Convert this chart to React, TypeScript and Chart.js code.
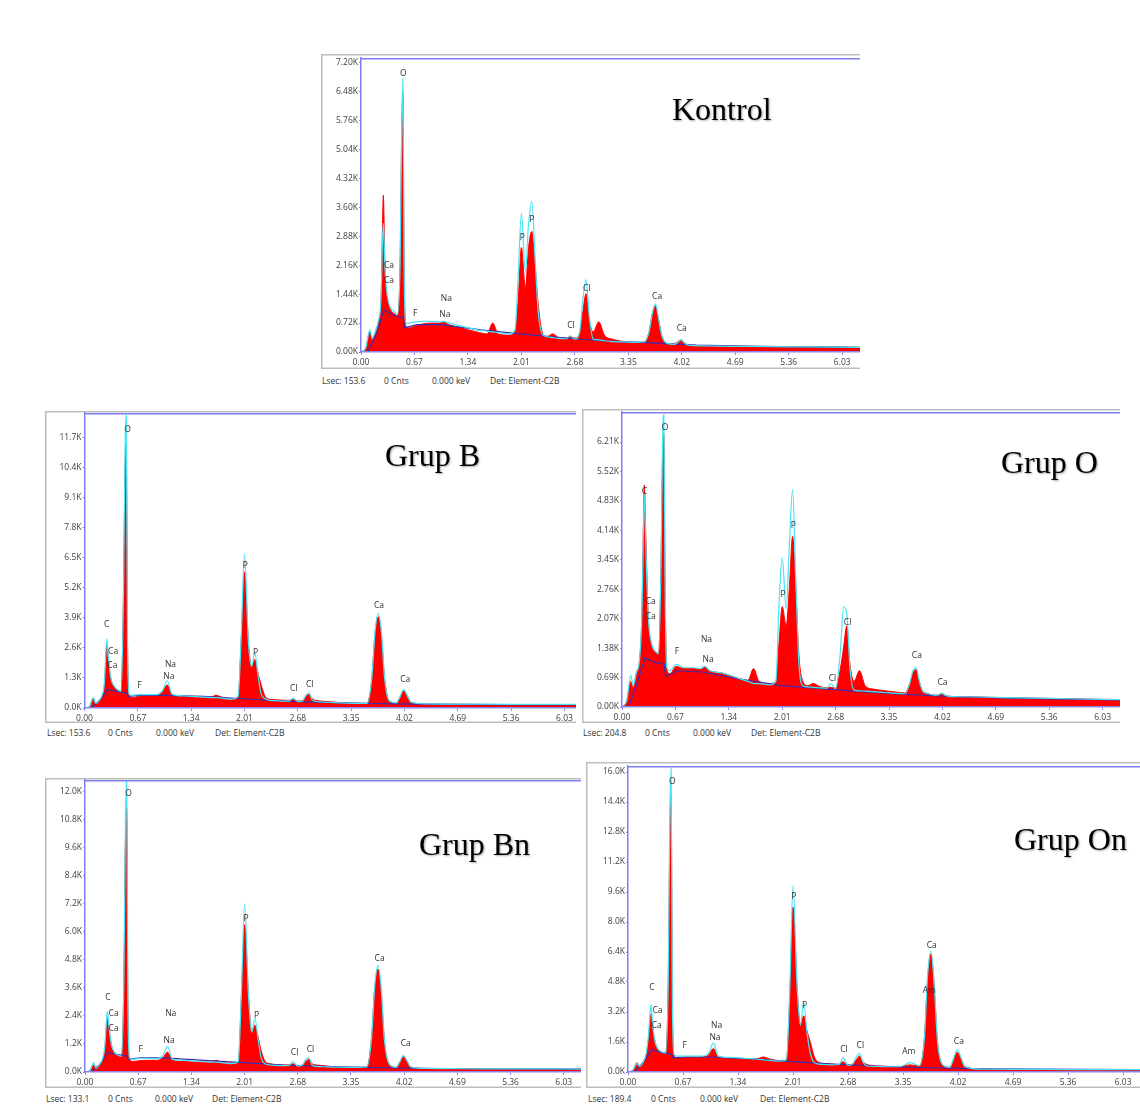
import React, { useEffect, useRef } from "react";
import { Chart, registerables } from "chart.js";

Chart.register(...registerables);

// ---------- shared axes ----------
const energyKeV = [
  0.00, 0.06, 0.11, 0.14, 0.18, 0.22, 0.25, 0.27, 0.28, 0.30,
  0.33, 0.37, 0.42, 0.46, 0.49, 0.51, 0.525, 0.54, 0.56, 0.60,
  0.68, 0.78, 0.90, 0.98, 1.04, 1.10, 1.25, 1.45, 1.58, 1.65,
  1.72, 1.85, 1.93, 1.97, 2.01, 2.06, 2.10, 2.14, 2.18, 2.22,
  2.27, 2.33, 2.40, 2.48, 2.57, 2.62, 2.68, 2.74, 2.78, 2.82,
  2.86, 2.91, 2.98, 3.05, 3.15, 3.30, 3.44, 3.55, 3.61, 3.65,
  3.69, 3.73, 3.77, 3.83, 3.92, 3.96, 4.01, 4.06, 4.10, 4.30,
  4.80, 5.40, 6.00, 6.40,
];
const bgEnergyKeV = [0.08, 0.18, 0.29, 0.40, 0.53, 0.545, 0.70, 1.00, 1.50, 2.00, 2.50, 3.00, 3.50, 4.20, 5.00, 6.40];
const xTickLabels = ["0.00", "0.67", "1.34", "2.01", "2.68", "3.35", "4.02", "4.69", "5.36", "6.03"];

// ---------- Kontrol ----------
const kontrolYLabels = ["0.00K", "0.72K", "1.44K", "2.16K", "2.88K", "3.60K", "4.32K", "5.04K", "5.76K", "6.48K", "7.20K"];
const kontrolCounts = [
  0, 0.1, 0.5, 0.3, 0.5, 0.75, 1.2, 3.2, 3.9, 2.1,
  1.35, 1.05, 0.95, 0.9, 2.2, 5.4, 6.45, 2.2, 0.65, 0.6,
  0.65, 0.7, 0.72, 0.72, 0.74, 0.68, 0.6, 0.5, 0.45, 0.72,
  0.45, 0.42, 0.5, 1.3, 2.6, 1.6, 2.6, 3.0, 2.2, 1.2,
  0.5, 0.38, 0.45, 0.36, 0.35, 0.38, 0.35, 0.45, 1.0, 1.45,
  0.8, 0.5, 0.75, 0.42, 0.32, 0.26, 0.24, 0.25, 0.5, 0.95,
  1.15, 0.8, 0.4, 0.22, 0.2, 0.24, 0.3, 0.22, 0.18, 0.16,
  0.14, 0.13, 0.12, 0.11,
];
const kontrolFit = [
  0, 0.1, 0.55, 0.35, 0.5, 0.8, 1.3, 2.8, 3.2, 2.1,
  1.4, 1.1, 1.0, 0.95, 2.2, 5.6, 6.8, 2.2, 0.72, 0.72,
  0.75, 0.76, 0.76, 0.75, 0.76, 0.72, 0.65, 0.55, 0.52, 0.5,
  0.48, 0.45, 0.55, 1.9, 3.45, 2.0, 3.2, 3.75, 2.4, 1.0,
  0.45, 0.38, 0.36, 0.34, 0.33, 0.4, 0.32, 0.5, 1.3, 1.8,
  0.9, 0.32, 0.3, 0.28, 0.26, 0.25, 0.24, 0.25, 0.5, 0.95,
  1.2, 0.8, 0.4, 0.22, 0.19, 0.22, 0.3, 0.21, 0.17, 0.15,
  0.14, 0.13, 0.12, 0.11,
];
const kontrolBackground = [0, 0.4, 1.05, 0.92, 0.85, 0.6, 0.68, 0.68, 0.55, 0.45, 0.36, 0.28, 0.24, 0.17, 0.14, 0.11];
const kontrolPeaks: [string, number, number][] = [
  ["O", 0.53, 6.92], ["Ca", 0.35, 2.14], ["Ca", 0.35, 1.77], ["F", 0.68, 0.96],
  ["Na", 1.07, 1.32], ["Na", 1.05, 0.92], ["P", 2.02, 2.84], ["P", 2.14, 3.29],
  ["Cl", 2.63, 0.66], ["Cl", 2.83, 1.58], ["Ca", 3.71, 1.38], ["Ca", 4.02, 0.58],
];

// ---------- Grup B ----------
const grupBYLabels = ["0.0K", "1.3K", "2.6K", "3.9K", "5.2K", "6.5K", "7.8K", "9.1K", "10.4K", "11.7K"];
const grupBCounts = [
  0, 0.05, 0.4, 0.2, 0.3, 0.5, 1.0, 2.2, 2.75, 2.1,
  1.3, 0.95, 0.75, 0.7, 5.0, 10.4, 11.5, 3.0, 0.55, 0.45,
  0.5, 0.55, 0.55, 0.7, 1.0, 0.55, 0.5, 0.45, 0.45, 0.55,
  0.48, 0.38, 0.5, 3.0, 5.9, 2.8, 1.8, 2.1, 1.5, 1.0,
  0.5, 0.38, 0.36, 0.34, 0.33, 0.38, 0.3, 0.33, 0.5, 0.6,
  0.4, 0.33, 0.3, 0.28, 0.25, 0.22, 0.2, 0.2, 1.3, 3.2,
  3.95, 3.2, 1.3, 0.3, 0.22, 0.45, 0.75, 0.5, 0.25, 0.17,
  0.16, 0.15, 0.15, 0.14,
];
const grupBFit = [
  0, 0.05, 0.45, 0.2, 0.3, 0.55, 1.1, 2.5, 3.0, 2.2,
  1.3, 0.95, 0.78, 0.72, 5.0, 11.4, 12.7, 3.0, 0.6, 0.55,
  0.58, 0.58, 0.58, 0.75, 1.18, 0.6, 0.52, 0.48, 0.45, 0.45,
  0.43, 0.38, 0.5, 3.2, 6.7, 2.8, 1.8, 2.4, 1.4, 0.6,
  0.4, 0.33, 0.32, 0.3, 0.3, 0.42, 0.28, 0.3, 0.55, 0.65,
  0.35, 0.28, 0.26, 0.25, 0.23, 0.21, 0.2, 0.2, 1.3, 3.3,
  4.1, 3.3, 1.3, 0.3, 0.22, 0.45, 0.8, 0.5, 0.25, 0.18,
  0.17, 0.16, 0.16, 0.15,
];
const grupBBackground = [0, 0.3, 0.82, 0.72, 0.65, 0.5, 0.55, 0.55, 0.5, 0.4, 0.3, 0.24, 0.2, 0.17, 0.15, 0.14];
const grupBPeaks: [string, number, number][] = [
  ["O", 0.54, 12.06], ["C", 0.28, 3.6], ["Ca", 0.36, 2.46], ["Ca", 0.35, 1.82], ["F", 0.69, 0.99],
  ["Na", 1.08, 1.86], ["Na", 1.06, 1.34], ["P", 2.02, 6.18], ["P", 2.15, 2.41],
  ["Cl", 2.63, 0.84], ["Cl", 2.83, 1.02], ["Ca", 3.70, 4.44], ["Ca", 4.03, 1.21],
];

// ---------- Grup O ----------
const grupOYLabels = ["0.00K", "0.69K", "1.38K", "2.07K", "2.76K", "3.45K", "4.14K", "4.83K", "5.52K", "6.21K"];
const grupOCounts = [
  0, 0.15, 0.6, 0.45, 0.8, 1.1, 2.2, 4.4, 5.2, 3.9,
  2.1, 1.45, 1.3, 1.25, 3.4, 6.0, 6.4, 3.0, 0.9, 0.78,
  0.95, 0.9, 0.9, 0.88, 0.95, 0.85, 0.8, 0.68, 0.62, 0.9,
  0.6, 0.55, 0.6, 1.5, 2.35, 1.9, 2.8, 4.0, 2.8, 1.2,
  0.6, 0.5, 0.55, 0.48, 0.45, 0.46, 0.44, 0.9, 1.4, 1.9,
  1.0, 0.6, 0.85, 0.5, 0.42, 0.38, 0.35, 0.33, 0.55, 0.8,
  0.88, 0.6, 0.38, 0.32, 0.28, 0.28, 0.32, 0.27, 0.25, 0.24,
  0.22, 0.2, 0.18, 0.17,
];
const grupOFit = [
  0, 0.15, 0.75, 0.5, 0.8, 1.1, 2.2, 4.2, 5.0, 3.7,
  2.1, 1.5, 1.3, 1.25, 3.4, 6.4, 6.85, 3.0, 0.95, 0.85,
  1.0, 0.92, 0.92, 0.9, 0.95, 0.85, 0.8, 0.68, 0.6, 0.55,
  0.55, 0.52, 0.6, 2.4, 3.5, 2.3, 3.8, 5.1, 3.0, 1.0,
  0.5, 0.47, 0.46, 0.45, 0.44, 0.55, 0.43, 1.3, 2.35, 2.2,
  0.9, 0.4, 0.38, 0.37, 0.36, 0.34, 0.32, 0.31, 0.55, 0.85,
  0.92, 0.6, 0.38, 0.32, 0.28, 0.28, 0.32, 0.27, 0.25, 0.24,
  0.22, 0.2, 0.18, 0.17,
];
const grupOBackground = [0, 0.5, 1.15, 1.05, 1.0, 0.72, 0.85, 0.82, 0.65, 0.5, 0.43, 0.36, 0.3, 0.24, 0.2, 0.16];
const grupOPeaks: [string, number, number][] = [
  ["O", 0.54, 6.56], ["C", 0.28, 5.05], ["Ca", 0.36, 2.47], ["Ca", 0.36, 2.12], ["F", 0.69, 1.30],
  ["Na", 1.06, 1.58], ["Na", 1.08, 1.10], ["P", 2.02, 2.63], ["P", 2.15, 4.25],
  ["Cl", 2.64, 0.66], ["Cl", 2.83, 1.98], ["Ca", 3.70, 1.20], ["Ca", 4.02, 0.58],
];

// ---------- Grup Bn ----------
const grupBnYLabels = ["0.0K", "1.2K", "2.4K", "3.6K", "4.8K", "6.0K", "7.2K", "8.4K", "9.6K", "10.8K", "12.0K"];
const grupBnCounts = [
  0, 0.05, 0.3, 0.15, 0.3, 0.5, 1.0, 1.9, 2.3, 1.9,
  1.2, 0.85, 0.7, 0.65, 4.0, 10.0, 11.3, 3.0, 0.55, 0.45,
  0.48, 0.5, 0.5, 0.6, 0.85, 0.5, 0.45, 0.42, 0.42, 0.5,
  0.42, 0.38, 0.45, 3.2, 6.3, 3.2, 1.7, 2.0, 1.5, 0.9,
  0.45, 0.35, 0.32, 0.3, 0.3, 0.35, 0.27, 0.3, 0.45, 0.55,
  0.35, 0.3, 0.28, 0.25, 0.22, 0.2, 0.2, 0.22, 1.5, 3.6,
  4.4, 3.5, 1.4, 0.35, 0.2, 0.4, 0.65, 0.45, 0.22, 0.15,
  0.14, 0.13, 0.13, 0.12,
];
const grupBnFit = [
  0, 0.05, 0.4, 0.15, 0.3, 0.55, 1.1, 2.2, 2.6, 2.0,
  1.2, 0.85, 0.72, 0.67, 4.0, 11.0, 12.6, 3.0, 0.6, 0.55,
  0.58, 0.58, 0.57, 0.7, 1.1, 0.55, 0.5, 0.45, 0.42, 0.42,
  0.4, 0.36, 0.45, 3.4, 7.2, 3.2, 1.7, 2.3, 1.4, 0.6,
  0.35, 0.3, 0.28, 0.27, 0.28, 0.45, 0.25, 0.3, 0.55, 0.62,
  0.3, 0.24, 0.23, 0.22, 0.21, 0.2, 0.2, 0.22, 1.5, 3.7,
  4.55, 3.6, 1.4, 0.35, 0.2, 0.4, 0.7, 0.45, 0.22, 0.15,
  0.14, 0.13, 0.13, 0.12,
];
const grupBnBackground = [0, 0.3, 0.85, 0.75, 0.68, 0.55, 0.6, 0.6, 0.5, 0.4, 0.3, 0.24, 0.2, 0.16, 0.14, 0.12];
const grupBnPeaks: [string, number, number][] = [
  ["O", 0.55, 11.9], ["C", 0.29, 3.18], ["Ca", 0.36, 2.51], ["Ca", 0.36, 1.87], ["F", 0.70, 0.98],
  ["Na", 1.08, 2.48], ["Na", 1.06, 1.34], ["P", 2.03, 6.55], ["P", 2.16, 2.40],
  ["Cl", 2.64, 0.84], ["Cl", 2.84, 0.98], ["Ca", 3.71, 4.85], ["Ca", 4.04, 1.23],
];

// ---------- Grup On ----------
const grupOnYLabels = ["0.0K", "1.6K", "3.2K", "4.8K", "6.4K", "8.0K", "9.6K", "11.2K", "12.8K", "14.4K", "16.0K"];
const grupOnCounts = [
  0, 0.1, 0.5, 0.3, 0.5, 0.9, 1.8, 2.8, 3.1, 2.4,
  1.6, 1.2, 1.05, 1.0, 4.8, 12.8, 14.8, 4.0, 0.9, 0.75,
  0.78, 0.8, 0.8, 0.9, 1.25, 0.8, 0.75, 0.7, 0.72, 0.8,
  0.7, 0.6, 0.65, 4.0, 8.8, 4.5, 2.5, 3.0, 2.2, 1.6,
  0.8, 0.5, 0.45, 0.42, 0.4, 0.55, 0.35, 0.45, 0.65, 0.85,
  0.55, 0.4, 0.35, 0.32, 0.3, 0.28, 0.38, 0.32, 1.8, 5.0,
  6.3, 4.5, 1.6, 0.4, 0.25, 0.6, 1.05, 0.7, 0.3, 0.15,
  0.13, 0.12, 0.12, 0.12,
];
const grupOnFit = [
  0, 0.1, 0.45, 0.3, 0.5, 0.95, 2.0, 3.2, 3.6, 2.5,
  1.6, 1.2, 1.05, 1.0, 4.8, 13.8, 16.2, 4.0, 0.95, 0.85,
  0.85, 0.85, 0.85, 1.0, 1.55, 0.85, 0.78, 0.72, 0.68, 0.65,
  0.62, 0.58, 0.65, 4.3, 9.95, 4.5, 2.5, 3.7, 2.1, 1.0,
  0.5, 0.42, 0.4, 0.38, 0.4, 0.75, 0.35, 0.45, 0.8, 1.0,
  0.55, 0.32, 0.3, 0.3, 0.28, 0.28, 0.5, 0.32, 1.8, 5.2,
  6.45, 4.6, 1.6, 0.4, 0.25, 0.65, 1.2, 0.7, 0.3, 0.15,
  0.14, 0.13, 0.13, 0.13,
];
const grupOnBackground = [0, 0.5, 1.2, 1.05, 0.95, 0.75, 0.8, 0.8, 0.7, 0.55, 0.42, 0.32, 0.24, 0.18, 0.15, 0.12];
const grupOnPeaks: [string, number, number][] = [
  ["O", 0.54, 15.5], ["C", 0.29, 4.48], ["Ca", 0.36, 3.29], ["Ca", 0.35, 2.45], ["F", 0.69, 1.39],
  ["Na", 1.08, 2.45], ["Na", 1.06, 1.81], ["P", 2.02, 9.33], ["P", 2.15, 3.56],
  ["Cl", 2.63, 1.21], ["Cl", 2.83, 1.39], ["Am", 3.42, 1.07], ["Am", 3.67, 4.36],
  ["Ca", 3.70, 6.72], ["Ca", 4.03, 1.64],
];

// ---------- panel layout ----------
type PanelCfg = {
  title: string;
  titleLeft: number;
  titleTop: number;
  frame: { l: number; t: number; r: number; b: number };
  plot: { l: number; t: number; b: number };
  xMax: number;
  yMax: number;
  yLabels: string[];
  counts: number[];
  fit: number[];
  background: number[];
  peaks: [string, number, number][];
  footer: [string, number][];
  footerY: number;
};

const panels: PanelCfg[] = [
  {
    title: "Kontrol", titleLeft: 672, titleTop: 92.5,
    frame: { l: 321, t: 54, r: 860, b: 369 }, plot: { l: 361, t: 58, b: 352 },
    xMax: 6.253, yMax: 7.317, yLabels: kontrolYLabels,
    counts: kontrolCounts, fit: kontrolFit, background: kontrolBackground, peaks: kontrolPeaks,
    footer: [["Lsec: 153.6", 322], ["0 Cnts", 384], ["0.000 keV", 432], ["Det: Element-C2B", 490]], footerY: 381,
  },
  {
    title: "Grup B", titleLeft: 385, titleTop: 439,
    frame: { l: 45, t: 411, r: 576, b: 723 }, plot: { l: 84.5, t: 413, b: 708 },
    xMax: 6.175, yMax: 12.78, yLabels: grupBYLabels,
    counts: grupBCounts, fit: grupBFit, background: grupBBackground, peaks: grupBPeaks,
    footer: [["Lsec: 153.6", 47], ["0 Cnts", 108], ["0.000 keV", 156], ["Det: Element-C2B", 215]], footerY: 733,
  },
  {
    title: "Grup O", titleLeft: 1001, titleTop: 446,
    frame: { l: 582, t: 409, r: 1120, b: 723 }, plot: { l: 622, t: 412, b: 707 },
    xMax: 6.248, yMax: 6.914, yLabels: grupOYLabels,
    counts: grupOCounts, fit: grupOFit, background: grupOBackground, peaks: grupOPeaks,
    footer: [["Lsec: 204.8", 583], ["0 Cnts", 645], ["0.000 keV", 693], ["Det: Element-C2B", 751]], footerY: 733,
  },
  {
    title: "Grup Bn", titleLeft: 419, titleTop: 828,
    frame: { l: 45, t: 778, r: 581, b: 1088 }, plot: { l: 85, t: 780, b: 1072 },
    xMax: 6.247, yMax: 12.49, yLabels: grupBnYLabels,
    counts: grupBnCounts, fit: grupBnFit, background: grupBnBackground, peaks: grupBnPeaks,
    footer: [["Lsec: 133.1", 46], ["0 Cnts", 108], ["0.000 keV", 155], ["Det: Element-C2B", 212]], footerY: 1099,
  },
  {
    title: "Grup On", titleLeft: 1014, titleTop: 822.5,
    frame: { l: 586, t: 762, r: 1140, b: 1088 }, plot: { l: 628, t: 766, b: 1072 },
    xMax: 6.236, yMax: 16.32, yLabels: grupOnYLabels,
    counts: grupOnCounts, fit: grupOnFit, background: grupOnBackground, peaks: grupOnPeaks,
    footer: [["Lsec: 189.4", 588], ["0 Cnts", 651], ["0.000 keV", 700], ["Det: Element-C2B", 760]], footerY: 1099,
  },
];

const UI_FONT = '"Open Sans", "DejaVu Sans", sans-serif';

function decoPlugin(cfg: PanelCfg) {
  return {
    id: "panelDeco",
    beforeDraw(chart: any) {
      const { ctx, width, height } = chart;
      ctx.save();
      ctx.fillStyle = "#ffffff";
      ctx.fillRect(0, 0, width, height);
      ctx.strokeStyle = "#bdbdbd";
      ctx.lineWidth = 1.5;
      ctx.beginPath();
      ctx.moveTo(width, 0.75);
      ctx.lineTo(0.75, 0.75);
      ctx.lineTo(0.75, height - 0.75);
      ctx.lineTo(width, height - 0.75);
      ctx.stroke();
      ctx.restore();
    },
    afterDraw(chart: any) {
      const { ctx, chartArea: a, scales } = chart;
      ctx.save();
      ctx.strokeStyle = "#7f7ff4";
      ctx.lineWidth = 1.5;
      ctx.beginPath();
      ctx.moveTo(a.left, a.top + 0.75);
      ctx.lineTo(a.right, a.top + 0.75);
      ctx.stroke();
      ctx.font = `8.5px ${UI_FONT}`;
      ctx.fillStyle = "#303030";
      ctx.textAlign = "center";
      ctx.textBaseline = "middle";
      for (const [t, e, k] of cfg.peaks) {
        ctx.fillText(t, scales.x.getPixelForValue(e), scales.y.getPixelForValue(k));
      }
      ctx.restore();
    },
  };
}

function SpectrumPanel({ cfg }: { cfg: PanelCfg }) {
  const ref = useRef<HTMLCanvasElement>(null);
  const w = cfg.frame.r - cfg.frame.l;
  const h = cfg.frame.b - cfg.frame.t;
  useEffect(() => {
    const canvas = ref.current!;
    const yTicks = cfg.yLabels.map((s) => parseFloat(s));
    const xTicks = xTickLabels.map((s) => parseFloat(s));
    const tickFont = { size: 8.5, family: UI_FONT };
    const chart = new Chart(canvas, {
      type: "line",
      data: {
        datasets: [
          {
            data: energyKeV.map((x, i) => ({ x, y: cfg.fit[i] })),
            borderColor: "#48e4f2",
            borderWidth: 1.2,
            pointRadius: 0,
            fill: false,
            cubicInterpolationMode: "monotone",
          },
          {
            data: bgEnergyKeV.map((x, i) => ({ x, y: cfg.background[i] })),
            borderColor: "#3a2db0",
            borderWidth: 1.2,
            pointRadius: 0,
            fill: false,
            tension: 0,
          },
          {
            data: energyKeV.map((x, i) => ({ x, y: cfg.counts[i] })),
            borderColor: "#ff0000",
            backgroundColor: "#ff0000",
            borderWidth: 1,
            pointRadius: 0,
            fill: "origin",
            cubicInterpolationMode: "monotone",
          },
        ],
      } as any,
      options: {
        responsive: false,
        animation: false,
        devicePixelRatio: 1,
        layout: { padding: { top: cfg.plot.t - cfg.frame.t, left: 0, right: 0, bottom: 0 } },
        plugins: { legend: { display: false }, tooltip: { enabled: false } },
        scales: {
          x: {
            type: "linear",
            min: 0,
            max: cfg.xMax,
            afterBuildTicks: (s: any) => {
              s.ticks = xTicks.map((v) => ({ value: v }));
            },
            afterFit: (s: any) => {
              s.height = cfg.frame.b - cfg.plot.b;
              s.paddingLeft = 0;
              s.paddingRight = 0;
            },
            ticks: {
              autoSkip: false,
              maxRotation: 0,
              padding: 2,
              color: "#404040",
              font: tickFont,
              callback: (_v: any, i: number) => xTickLabels[i],
            },
            grid: { display: true, drawOnChartArea: false, drawTicks: true, tickLength: 3, color: "#8a8af0" },
            border: { display: true, color: "#8c86ea", width: 1.5, z: 1 },
          },
          y: {
            type: "linear",
            min: 0,
            max: cfg.yMax,
            afterBuildTicks: (s: any) => {
              s.ticks = yTicks.map((v) => ({ value: v }));
            },
            afterFit: (s: any) => {
              s.width = cfg.plot.l - cfg.frame.l;
              s.paddingTop = 0;
              s.paddingBottom = 0;
            },
            ticks: {
              autoSkip: false,
              padding: 1,
              color: "#404040",
              font: tickFont,
              callback: (_v: any, i: number) => cfg.yLabels[i],
            },
            grid: { display: true, drawOnChartArea: false, drawTicks: true, tickLength: 2, color: "#8a8af0" },
            border: { display: true, color: "#7f7ff4", width: 1.5, z: 1 },
          },
        },
      } as any,
      plugins: [decoPlugin(cfg)],
    });
    return () => chart.destroy();
  }, [cfg]);
  return (
    <canvas
      ref={ref}
      width={w}
      height={h}
      style={{ position: "absolute", left: cfg.frame.l, top: cfg.frame.t, width: w, height: h }}
    />
  );
}

export default function App() {
  return (
    <div
      style={{
        position: "absolute",
        left: 0,
        top: 0,
        width: 1140,
        height: 1109,
        background: "#ffffff",
        overflow: "hidden",
      }}
    >
      {panels.map((p) => (
        <SpectrumPanel key={p.title} cfg={p} />
      ))}
      {panels.map((p) => (
        <div
          key={p.title + "-title"}
          style={{
            position: "absolute",
            left: p.titleLeft,
            top: p.titleTop,
            fontFamily: '"Liberation Serif", "Times New Roman", serif',
            fontSize: 32,
            lineHeight: "32px",
            color: "#000",
            whiteSpace: "nowrap",
            textShadow: "1px 1px 2px rgba(0,0,0,0.35)",
          }}
        >
          {p.title}
        </div>
      ))}
      {panels.map((p) =>
        p.footer.map(([t, x]) => (
          <div
            key={p.title + t}
            style={{
              position: "absolute",
              left: x,
              top: p.footerY - 5,
              fontFamily: UI_FONT,
              fontSize: 8.5,
              lineHeight: "10px",
              color: "#333",
              whiteSpace: "nowrap",
            }}
          >
            {t}
          </div>
        ))
      )}
    </div>
  );
}
